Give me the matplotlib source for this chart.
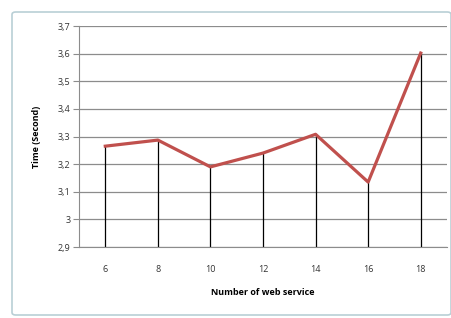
import matplotlib
matplotlib.use("Agg")
import matplotlib.pyplot as plt
from matplotlib.patches import FancyBboxPatch

# web service counts and response time
services = ["6", "8", "10", "12", "14", "16", "18"]
times = [3.265, 3.287, 3.19, 3.24, 3.308, 3.135, 3.602]
yticks = [2.9, 3.0, 3.1, 3.2, 3.3, 3.4, 3.5, 3.6, 3.7]
ylabels = ["2,9", "3", "3,1", "3,2", "3,3", "3,4", "3,5", "3,6", "3,7"]

plt.rcParams['font.family'] = ['Open Sans', 'DejaVu Sans']

fig = plt.figure(figsize=(4.52, 3.18), dpi=100)
fig.patch.set_facecolor("white")

# outer chart frame
frame = FancyBboxPatch((12/452, 3/318), 439/452, 303/318,
                       boxstyle="round,pad=0,rounding_size=0.008",
                       transform=fig.transFigure, facecolor="none",
                       edgecolor="#b9cfd6", lw=1.2)
fig.patches.append(frame)

ax = fig.add_axes([79/452, 1-247/318, 368/452, 221/318])
x = range(len(services))
ax.vlines(x, 2.9, times, color="black", lw=0.9, zorder=2)
ax.plot(x, times, color="#c0504d", lw=2.3, zorder=3)

ax.set_xlim(-0.5, len(services)-0.5)
ax.set_ylim(2.9, 3.7)
ax.set_yticks(yticks)
ax.set_yticklabels(ylabels)
ax.set_xticks(list(x))
ax.set_xticklabels(services)
ax.grid(axis="y", color="#8c8c8c", lw=0.9)
ax.set_axisbelow(True)
for s in ["top", "right"]:
    ax.spines[s].set_visible(False)
ax.spines["left"].set_color("#8c8c8c")
ax.spines["bottom"].set_color("#8c8c8c")
ax.tick_params(axis="y", length=4, color="#8c8c8c", labelsize=6.5, labelcolor="#333333", pad=2)
ax.tick_params(axis="x", length=0, labelsize=6.5, labelcolor="#333333", pad=13)

ax.set_xlabel("Number of web service", fontsize=6.5, fontweight="bold", labelpad=10)
ax.set_ylabel("Time (Second)", fontsize=6.5, fontweight="bold", labelpad=12)

fig.savefig("out.png", dpi=100)
